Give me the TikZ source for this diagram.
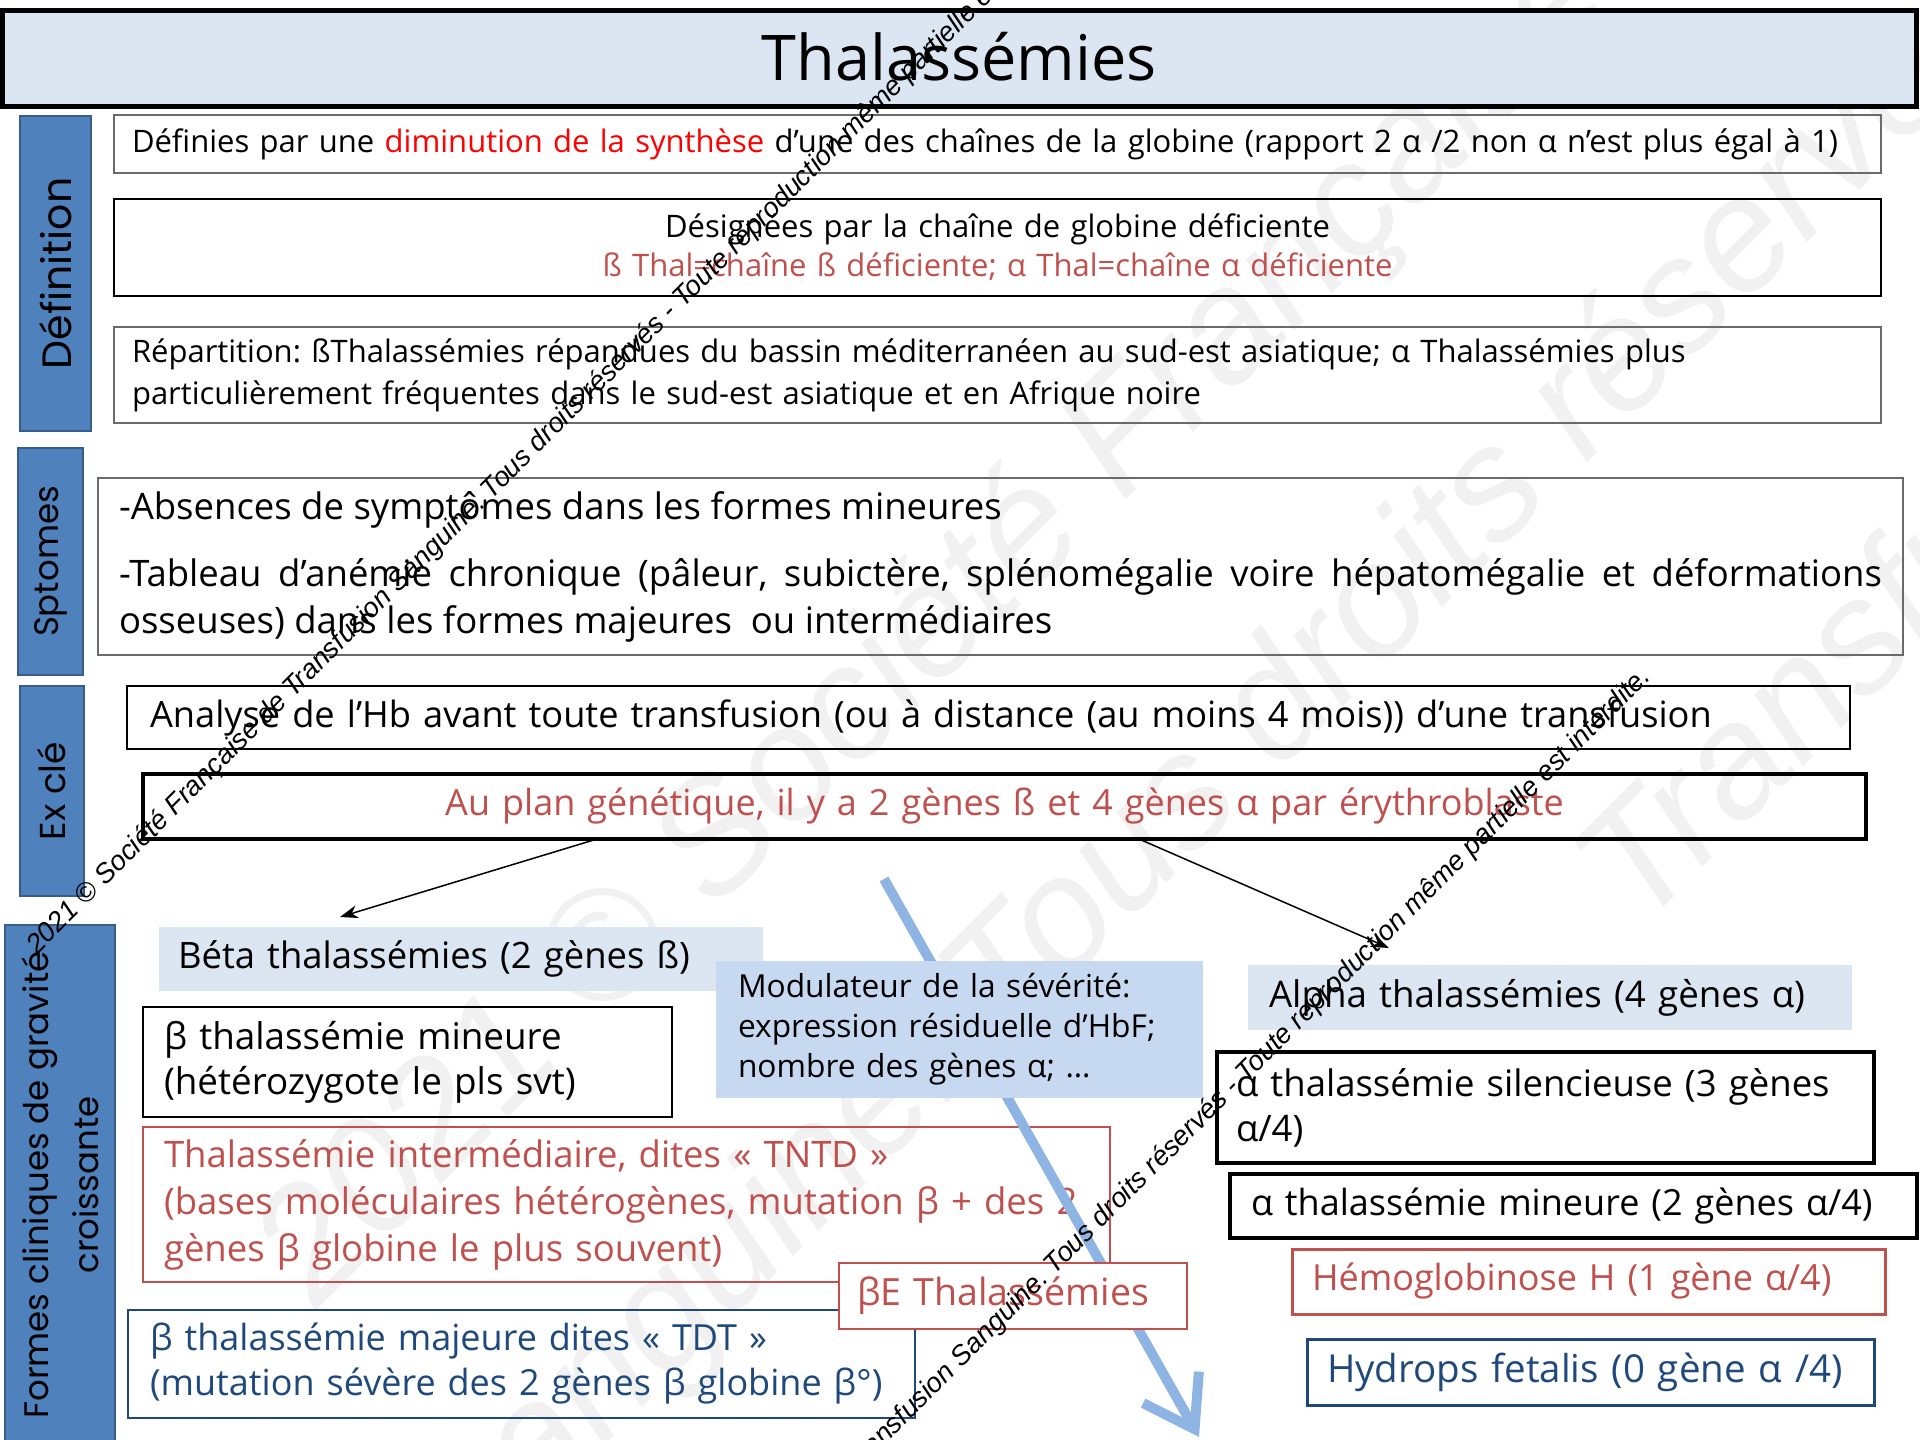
\documentclass[tikz,border=0pt]{standalone}
\usepackage{fontspec}
\setmainfont{Open Sans}
\newfontfamily\labfont{Poppins}
\newfontfamily\wmfont{Liberation Sans}
\usetikzlibrary{arrows.meta,calc}
\definecolor{titlefill}{HTML}{DCE6F2}
\definecolor{labfill}{HTML}{4F81BD}
\definecolor{labdraw}{HTML}{385D8A}
\definecolor{modfill}{HTML}{C6D9F1}
\definecolor{redtxt}{HTML}{C0504D}
\definecolor{brightred}{HTML}{FF0000}
\definecolor{navy}{HTML}{1F497D}
\definecolor{arrowblue}{HTML}{8EB4E3}
\definecolor{boxgray}{HTML}{6A6A6A}
\definecolor{faintgray}{HTML}{F1F1F1}
\newcommand\fsz[2]{\fontsize{#1}{#2}\selectfont\frenchspacing\spaceskip=0pt\xspaceskip=0pt\relax}
\begin{document}
\begin{tikzpicture}[x=1pt,y=-1pt,
  every node/.style={inner sep=0pt, outer sep=0pt},
  labelbox/.style={draw=labdraw, line width=1.5pt, fill=labfill, rotate=90, align=center},
  tbox/.style={anchor=north west, align=left, inner ysep=0pt},
  conn/.style={line width=1.5pt, -{Stealth[length=18pt,width=13pt]}},
  wm/.style={rotate=45, anchor=base west, font=\wmfont\itshape\fsz{27.5}{30}},
  bigwm/.style={rotate=45, anchor=base west, text=faintgray, font=\wmfont\itshape\fsz{160}{170}},
]
\useasboundingbox (0,0) rectangle (1920,1440);

% faint background watermark
\begin{scope}
\clip (0,0) rectangle (1920,1440);
\node[bigwm] (bg1) at (316,1310) {2021 © Société Française de Transfusion Sanguine.};
\node[bigwm] (bg2) at (464,1586) {Sanguine. Tous droits réservés - Toute reproduction};
\node[bigwm] (bg3) at (1640,930) {Transfusion Sanguine.};
\end{scope}

% title
\node[draw=black, line width=5pt, fill=titlefill, anchor=north west, minimum width=1914pt, minimum height=96pt] (title) at (2.5,10) {};
\node[font=\fsz{63}{76}] (titletext) at (959,57) {Thalassémies};

% side labels
\node[labelbox, minimum width=315pt, minimum height=71pt, font=\labfont\fsz{41}{48}] (lab1) at (55.5,273.5) {Définition};
\node[labelbox, minimum width=227pt, minimum height=65pt, font=\labfont\fsz{34}{40}] (lab2) at (50.5,561.5) {Sptomes};
\node[labelbox, minimum width=210pt, minimum height=64pt, font=\labfont\fsz{36}{42}] (lab3) at (52,791) {Ex clé};
\node[labelbox, minimum width=520pt, minimum height=110pt, font=\labfont\fsz{34}{50}] (lab4) at (60,1185) {Formes cliniques de gravité\\croissante};

% definition boxes
\node[tbox, font=\fsz{31}{38}, draw=boxgray, line width=1.5pt, inner xsep=18pt, text width=1731pt, minimum height=58pt] (def1) at (114,115)
  {\mbox{Définies par une \textcolor{brightred}{diminution de la synthèse} d’une des chaînes de la globine (rapport 2 α /2 non α n’est plus égal à 1)}};
\node[tbox, font=\fsz{31}{39}, draw=black, line width=1.2pt, inner xsep=18pt, text width=1731pt, minimum height=97pt, align=center] (def2) at (114,199)
  {Désignées par la chaîne de globine déficiente\\\textcolor{redtxt}{ß Thal=chaîne ß déficiente; α Thal=chaîne α déficiente}};
\node[tbox, font=\fsz{31}{42}, draw=boxgray, line width=1.5pt, inner xsep=18pt, text width=1731pt, minimum height=96pt] (def3) at (114,327)
  {\mbox{Répartition: ßThalassémies répandues du bassin méditerranéen au sud-est asiatique; α Thalassémies plus}\\particulièrement fréquentes dans le sud-est asiatique et en Afrique noire};

% symptoms
\node[tbox, font=\fsz{36.5}{47}, draw=boxgray, line width=1.5pt, inner xsep=21pt, text width=1763pt, minimum height=177pt, align=justify] (sympt) at (98,478)
  {\hyphenpenalty=10000 -Absences de symptômes dans les formes mineures\par\vspace{20pt}-Tableau d’anémie chronique (pâleur, subictère, splénomégalie voire hépatomégalie et déformations\linebreak osseuses) dans les formes majeures\ \ ou intermédiaires};

% key exams
\node[tbox, font=\fsz{36.2}{44}, draw=black, line width=2.5pt, inner xsep=23pt, text width=1677pt, minimum height=63pt] (analyse) at (127,686)
  {\mbox{Analyse de l’Hb avant toute transfusion (ou à distance (au moins 4 mois)) d’une transfusion}};
\node[tbox, font=\fsz{36}{44}, text=redtxt, draw=black, line width=3.5pt, inner xsep=10pt, text width=1703pt, minimum height=65pt, align=center] (auplan) at (143,774)
  {Au plan génétique, il y a 2 gènes ß et 4 gènes α par érythroblaste};

% beta side
\node[tbox, font=\fsz{36.4}{44}, fill=titlefill, inner xsep=19pt, text width=566pt, minimum height=64pt] (beta) at (159,927)
  {\mbox{Béta thalassémies (2 gènes ß)}};
\node[tbox, font=\fsz{36.8}{45}, draw=black, line width=2.5pt, inner xsep=21pt, text width=487pt, minimum height=110pt] (bmin) at (143,1007)
  {\mbox{β thalassémie mineure}\\\mbox{(hétérozygote le pls svt)}};
\node[tbox, font=\fsz{36.5}{47}, text=redtxt, draw=redtxt, line width=2pt, inner xsep=21pt, text width=925pt, minimum height=155pt] (tntd) at (143,1127)
  {\mbox{Thalassémie intermédiaire, dites « TNTD »}\\\mbox{(bases moléculaires hétérogènes, mutation β + des 2}\\\mbox{gènes β globine le plus souvent)}};
\node[tbox, font=\fsz{36}{45}, text=navy, draw=navy, line width=2pt, inner xsep=22pt, text width=743pt, minimum height=108pt] (bmaj) at (128,1310)
  {\mbox{β thalassémie majeure dites « TDT »}\\\mbox{(mutation sévère des 2 gènes β globine β°)}};

% connectors
\draw[conn] ([xshift=454pt]auplan.south west) -- ([xshift=181pt,yshift=10pt]beta.north west);

% severity arrow
\coordinate (sevstart) at (884,879);
\coordinate (sevend) at (1199,1437);
\draw[arrowblue, line width=10pt, -{Straight Barb[length=48pt,width=64pt]}] (sevstart) -- (sevend);

\node[tbox, font=\fsz{31.7}{40}, fill=modfill, inner xsep=22pt, text width=443pt, minimum height=137pt] (modul) at (716,961)
  {\mbox{Modulateur de la sévérité:}\\\mbox{expression résiduelle d’HbF;}\\\mbox{nombre des gènes α; …}};
\node[tbox, font=\fsz{37.5}{44}, text=redtxt, draw=redtxt, fill=white, line width=2pt, inner xsep=18pt, text width=312pt, minimum height=66pt] (be) at (839,1263)
  {\mbox{βE Thalassémies}};

% alpha side
\node[tbox, font=\fsz{36.7}{44}, fill=titlefill, inner xsep=21pt, text width=562pt, minimum height=65pt] (alpha) at (1248,965)
  {\mbox{Alpha thalassémies (4 gènes α)}};
\draw[conn] ([xshift=996pt]auplan.south west) -- ([xshift=141pt,yshift=17pt]alpha.north west);
\node[tbox, font=\fsz{36.5}{45}, draw=black, line width=3.5pt, inner xsep=19pt, text width=619pt, minimum height=111pt] (asil) at (1217,1052)
  {\mbox{α thalassémie silencieuse (3 gènes}\\α/4)};
\node[tbox, font=\fsz{36}{44}, draw=black, line width=3.5pt, inner xsep=21pt, text width=645pt, minimum height=64pt] (amin) at (1230,1174)
  {\mbox{α thalassémie mineure (2 gènes α/4)}};
\node[tbox, font=\fsz{36}{44}, text=redtxt, draw=redtxt, line width=3pt, inner xsep=20pt, text width=553pt, minimum height=65pt] (hbh) at (1292,1249)
  {\mbox{Hémoglobinose H (1 gène α/4)}};
\node[tbox, font=\fsz{38.5}{44}, text=navy, draw=navy, line width=3pt, inner xsep=20pt, text width=527pt, minimum height=66pt] (hydrops) at (1307,1339)
  {\mbox{Hydrops fetalis (0 gène α /4)}};

% watermark
\begin{scope}
\clip (0,0) rectangle (1920,1440);
\node[wm] (wm1) at (37,955) {2021 © Société Française de Transfusion Sanguine. Tous droits réservés - Toute reproduction même partielle est interdite.};
\node[wm] (wm2) at (600,1730) {2021 © Société Française de Transfusion Sanguine. Tous droits réservés - Toute reproduction même partielle est interdite.};
\end{scope}
\end{tikzpicture}
\end{document}
